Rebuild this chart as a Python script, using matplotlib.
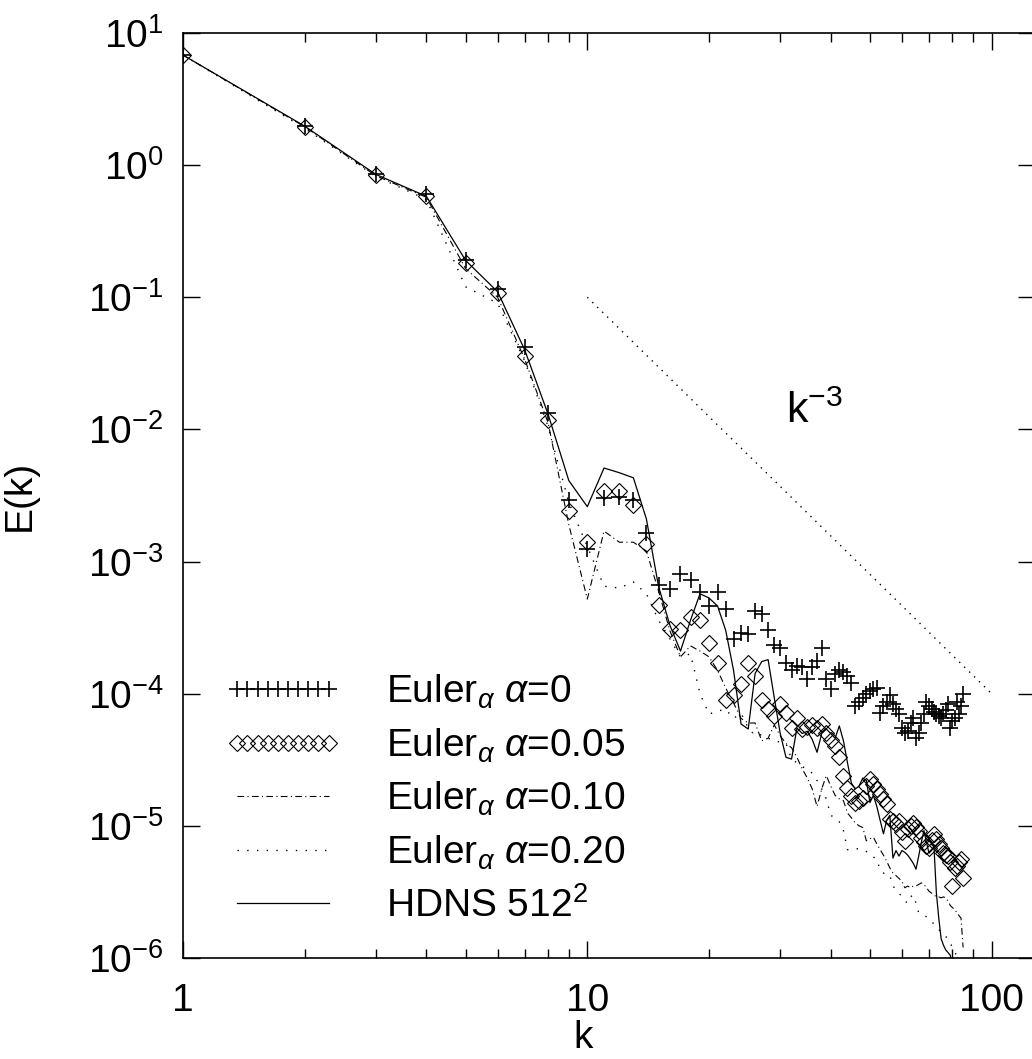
import numpy as np
import matplotlib
matplotlib.use("Agg")
import matplotlib.pyplot as plt

plt.rcParams['font.family'] = 'Liberation Sans'
plt.rcParams['mathtext.fontset'] = 'custom'
plt.rcParams['mathtext.rm'] = 'Liberation Sans'
plt.rcParams['mathtext.it'] = 'Liberation Sans:italic'
plt.rcParams['mathtext.bf'] = 'Liberation Sans:bold'

# energy spectra, k = 1, 2, 3, ...
e_a000 = [6.8, 1.97, 0.85, 0.60, 0.19, 0.115, 0.042, 0.0132, 0.0029, 0.00125,
          0.0030, 0.0031, 0.0029, 0.00165, 6.6e-4, 6.2e-4, 8.1e-4, 7.3e-4, 5.9e-4, 4.6e-4,
          5.9e-4, 4.4e-4, 2.6e-4, 2.9e-4, 2.85e-4, 4.25e-4, 4.0e-4, 3.05e-4, 2.35e-4, 2.2e-4,
          1.7e-4, 1.52e-4, 1.63e-4, 1.6e-4, 1.3e-4, 1.6e-4, 1.78e-4, 2.2e-4, 1.3e-4, 1.09e-4,
          1.4e-4, 1.5e-4, 1.45e-4, 1.35e-4, 1.2e-4, 8.1e-5, 8.7e-5, 9.2e-5, 1.0e-4, 1.05e-4,
          1.08e-4, 1.1e-4, 7.2e-5, 8.0e-5, 8.7e-5, 9.7e-5, 8.3e-5, 7.6e-5, 7.0e-5, 5.5e-5,
          5.0e-5, 5.2e-5, 6.0e-5, 6.6e-5, 4.6e-5, 5.0e-5, 6.0e-5, 7.0e-5, 8.7e-5, 8.0e-5,
          7.7e-5, 7.3e-5, 7.0e-5, 6.8e-5, 6.6e-5, 7.0e-5, 7.5e-5, 8.3e-5, 5.5e-5, 6.2e-5,
          6.5e-5, 8.7e-5, 7.0e-5, 8.0e-5, 1.0e-4]

e_a005 = [6.8, 1.95, 0.84, 0.58, 0.18, 0.108, 0.036, 0.0117, 0.0024, 0.0014,
          0.0034, 0.0034, 0.0027, 0.00135, 4.7e-4, 3.1e-4, 3.05e-4, 3.8e-4, 3.6e-4, 2.4e-4,
          1.7e-4, 8.9e-5, 9.8e-5, 1.19e-4, 1.7e-4, 1.37e-4, 8.9e-5, 7.6e-5, 6.8e-5, 8.3e-5,
          7.1e-5, 5.5e-5, 6.6e-5, 5.4e-5, 5.6e-5, 5.8e-5, 5.5e-5, 5.9e-5, 5.0e-5, 4.5e-5,
          4.0e-5, 3.3e-5, 2.4e-5, 1.94e-5, 1.69e-5, 1.49e-5, 1.55e-5, 1.63e-5, 2.0e-5, 2.27e-5,
          2.08e-5, 1.9e-5, 1.75e-5, 1.6e-5, 1.47e-5, 1.13e-5, 1.08e-5, 1.03e-5, 1.09e-5, 9.0e-6,
          7.7e-6, 9.5e-6, 1.0e-5, 1.05e-5, 9.8e-6, 9.2e-6, 8.1e-6, 7.5e-6, 7.0e-6, 6.8e-6,
          7.8e-6, 8.7e-6, 8.0e-6, 7.3e-6, 6.8e-6, 6.2e-6, 6.0e-6, 5.9e-6, 5.3e-6, 3.5e-6,
          4.8e-6, 5.0e-6, 5.3e-6, 5.6e-6, 4.0e-6]

e_a010 = [6.8, 1.95, 0.83, 0.57, 0.165, 0.10, 0.034, 0.0112, 0.0019, 5.2e-4,
          1.7e-3, 1.4e-3, 1.4e-3, 1.2e-3, 6.0e-4, 3.0e-4, 1.9e-4, 2.3e-4, 2.1e-4, 1.9e-4,
          1.5e-4, 1.1e-4, 8.5e-5, 6.5e-5, 6.0e-5, 6.0e-5, 4.4e-5, 4.6e-5, 5.8e-5, 4.8e-5,
          4.2e-5, 3.9e-5, 3.3e-5, 2.7e-5, 2.3e-5, 1.9e-5, 1.4e-5, 1.9e-5, 2.4e-5, 2.0e-5,
          1.7e-5, 1.6e-5, 1.55e-5, 1.25e-5, 1.15e-5, 1.05e-5, 1.0e-5, 9.7e-6, 7.7e-6, 8.0e-6,
          8.2e-6, 7.3e-6, 6.6e-6, 6.0e-6, 5.4e-6, 4.8e-6, 4.4e-6, 4.2e-6, 4.0e-6, 3.8e-6,
          3.4e-6, 3.5e-6, 3.4e-6, 3.5e-6, 3.5e-6, 3.6e-6, 3.7e-6, 3.6e-6, 3.4e-6, 3.2e-6,
          3.1e-6, 3.0e-6, 2.9e-6, 2.9e-6, 2.85e-6, 2.9e-6, 2.85e-6, 2.7e-6, 2.5e-6, 2.4e-6,
          2.35e-6, 2.2e-6, 2.1e-6, 2.0e-6, 1.2e-6]

e_a020 = [6.8, 1.9, 0.82, 0.55, 0.12, 0.09, 0.033, 0.0105, 0.0028, 1.3e-3,
          6.5e-4, 6.3e-4, 7.0e-4, 5.7e-4, 3.6e-4, 2.6e-4, 1.9e-4, 2.0e-4, 1.0e-4, 7.0e-5,
          7.4e-5, 7.6e-5, 6.5e-5, 7.1e-5, 5.5e-5, 4.8e-5, 4.9e-5, 4.6e-5, 4.4e-5, 4.3e-5,
          4.2e-5, 3.2e-5, 3.0e-5, 2.8e-5, 2.7e-5, 2.5e-5, 2.2e-5, 1.9e-5, 1.6e-5, 1.2e-5,
          1.15e-5, 1.07e-5, 9.2e-6, 6.6e-6, 6.6e-6, 6.7e-6, 6.7e-6, 6.5e-6, 6.4e-6, 6.0e-6,
          5.8e-6, 5.6e-6, 4.6e-6, 4.4e-6, 4.2e-6, 4.2e-6, 3.5e-6, 3.3e-6, 3.1e-6, 2.9e-6,
          2.7e-6, 2.6e-6, 2.9e-6, 3.0e-6, 2.6e-6, 2.2e-6, 2.15e-6, 2.1e-6, 2.05e-6, 2.0e-6,
          1.9e-6, 1.8e-6, 1.75e-6, 1.65e-6, 1.55e-6, 1.5e-6, 1.45e-6, 1.4e-6, 1.3e-6, 1.2e-6,
          1.1e-6, 1.05e-6, 9.5e-7, 8e-7, 7e-7]

e_hdns = [6.8, 1.97, 0.85, 0.58, 0.19, 0.11, 0.04, 0.013, 0.0041, 0.0026,
          0.0051, 0.0047, 0.0043, 0.0021, 6.5e-4, 3.3e-4, 2.1e-4, 3.6e-4, 5.7e-4, 5.3e-4,
          4.6e-4, 3.0e-4, 1.5e-4, 5.9e-5, 5.4e-5, 1.42e-4, 1.75e-4, 1.81e-4, 9.3e-5, 5.0e-5,
          3.3e-5, 3.2e-5, 5.5e-5, 5.0e-5, 5.2e-5, 4.5e-5, 3.6e-5, 5.0e-5, 5.4e-5, 5.0e-5,
          4.6e-5, 5.7e-5, 4.4e-5, 3.0e-5, 2.1e-5, 1.9e-5, 2.0e-5, 2.3e-5, 2.2e-5, 1.5e-5,
          1.7e-5, 1.4e-5, 1.1e-5, 8.7e-6, 1.1e-5, 1.2e-5, 5.7e-6, 6.5e-6, 5.9e-6, 6.5e-6,
          6.3e-6, 6.0e-6, 5.6e-6, 5.2e-6, 4.7e-6, 5.9e-6, 7.5e-6, 9.2e-6, 7.5e-6, 6.2e-6,
          6.5e-6, 6.9e-6, 3.1e-6, 2.0e-6, 1.4e-6, 1.25e-6, 1.15e-6, 1.1e-6, 1.05e-6, 8e-7]

# k^-3 guide line end points
ref_k = [10, 100]
ref_e = [1e-1, 1e-4]

labels = [r'Euler$_\alpha$ $\alpha$=0', r'Euler$_\alpha$ $\alpha$=0.05',
          r'Euler$_\alpha$ $\alpha$=0.10', r'Euler$_\alpha$ $\alpha$=0.20',
          r'HDNS 512$^2$']

fig = plt.figure(figsize=(10.32, 10.59), dpi=100)
ax = fig.add_axes([0.1773, 0.0954, 0.8256, 0.8735])

k0 = np.arange(1, len(e_a000) + 1)
k1 = np.arange(1, len(e_a005) + 1)
k2 = np.arange(1, len(e_a010) + 1)
k3 = np.arange(1, len(e_a020) + 1)
kh = np.arange(1, len(e_hdns) + 1)

ax.plot(k0, e_a000, ls='none', marker='+', ms=12, mew=1.2, color='k', label=labels[0])
ax.plot(k1, e_a005, ls='none', marker='D', ms=8, mew=0.8, mfc='none', mec='k', label=labels[1])
ax.plot(k2, e_a010, ls=(0, (6, 3, 1, 3)), lw=0.8, color='k', label=labels[2])
ax.plot(k3, e_a020, ls=(0, (1, 6)), lw=1.0, color='k', label=labels[3])
ax.plot(kh, e_hdns, ls='-', lw=0.9, color='k', label=labels[4])

ax.plot(ref_k, ref_e, ls=(0, (1, 4)), lw=1.0, color='k')
ax.text(36.5, 0.0135, r'$\mathrm{k}^{-3}$', fontsize=31, ha='center', va='center')

ax.set_xscale('log')
ax.set_yscale('log')
ax.set_xlim(1, 128)
ax.set_ylim(1e-6, 10)

ax.set_xticks([1, 10, 100])
ax.set_xticklabels(['1', '10', '100'])
ax.xaxis.set_minor_formatter(matplotlib.ticker.NullFormatter())
ax.yaxis.set_minor_locator(matplotlib.ticker.NullLocator())

ax.tick_params(which='both', direction='in', top=True, right=True, labelsize=28)
ax.tick_params(axis='x', which='major', length=12, width=1, pad=18)
ax.tick_params(axis='x', which='minor', length=6.5, width=1)
ax.tick_params(axis='y', which='major', length=12, width=1, pad=14)
for s in ax.spines.values():
    s.set_linewidth(1.2)

ax.set_xlabel('k', fontsize=28)
ax.set_ylabel('E(k)', fontsize=28)
ax.xaxis.set_label_coords(0.47, -0.067)
ax.yaxis.set_label_coords(-0.17, 0.5)

leg = ax.legend(loc='upper left', bbox_to_anchor=(0.05, 0.308), frameon=False,
                fontsize=28, numpoints=10, handlelength=2.95, handletextpad=1.18,
                labelspacing=0.39, borderpad=0, borderaxespad=0)

fig.savefig('out.png', dpi=100)
